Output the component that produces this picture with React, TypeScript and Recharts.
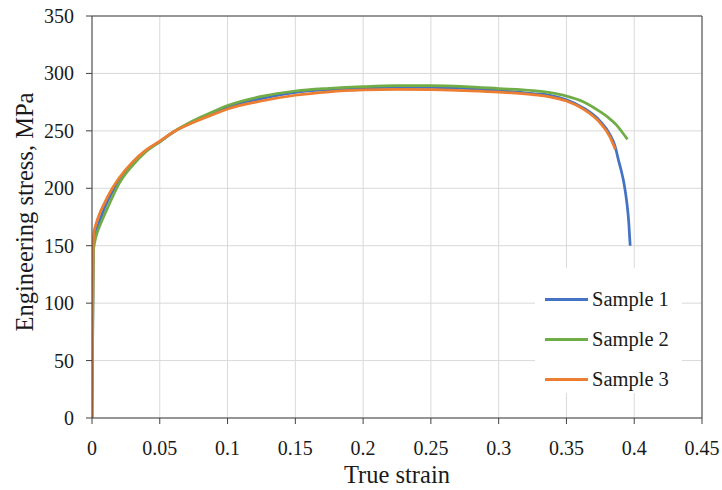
import { LineChart, Line, XAxis, YAxis, CartesianGrid, ReferenceLine, Legend } from 'recharts'

const FONT = "'Liberation Serif', 'Times New Roman', serif"

const strainTicks = [0, 0.05, 0.1, 0.15, 0.2, 0.25, 0.3, 0.35, 0.4, 0.45]
const stressTicks = [0, 50, 100, 150, 200, 250, 300, 350]

// Sample 1
const strain1 = [0, 0.001, 0.002, 0.004, 0.007, 0.01, 0.015, 0.02, 0.03, 0.04, 0.05, 0.06, 0.075, 0.09, 0.1, 0.125, 0.15, 0.175, 0.2, 0.225, 0.25, 0.275, 0.3, 0.325, 0.3378, 0.35, 0.3624, 0.3748, 0.382, 0.3858, 0.3883, 0.3905, 0.3925, 0.3945, 0.396, 0.397]
const stress1 = [0, 150, 158, 166, 176, 185, 197, 207, 222, 233, 240.5, 249, 258, 266, 271, 278, 283.5, 286, 287.3, 288, 287.8, 287, 285, 282.5, 281, 277, 270, 258.5, 247, 237, 225, 215, 204, 188, 170, 150]

// Sample 2
const strain2 = [0, 0.001, 0.002, 0.004, 0.006, 0.01, 0.015, 0.02, 0.03, 0.04, 0.05, 0.06, 0.075, 0.09, 0.1, 0.125, 0.15, 0.175, 0.2, 0.225, 0.25, 0.275, 0.3, 0.325, 0.3378, 0.35, 0.3624, 0.3748, 0.381, 0.387, 0.391, 0.395]
const stress2 = [0, 145, 153, 162, 168, 179, 192, 204, 220, 232, 240.5, 249, 259, 267, 272, 280, 284.7, 287, 288.5, 289.3, 289.3, 288.5, 286.8, 285, 283.2, 280.3, 275.4, 266.7, 261.5, 255, 249, 242.6]

// Sample 3
const strain3 = [0, 0.0008, 0.0015, 0.003, 0.006, 0.01, 0.015, 0.02, 0.03, 0.04, 0.05, 0.06, 0.075, 0.09, 0.1, 0.125, 0.15, 0.175, 0.2, 0.225, 0.25, 0.275, 0.3, 0.325, 0.3378, 0.35, 0.3624, 0.3748, 0.382, 0.386]
const stress3 = [0, 150, 162, 169, 179, 189, 200, 209, 223, 233.5, 241, 249, 257.5, 264.5, 269, 276, 281, 284, 285.6, 286.2, 286, 285, 283.7, 281.5, 279.5, 276, 269, 257, 245, 234]

const toRows = (xs: number[], ys: number[]) => xs.map((x, i) => ({ strain: x, stress: ys[i] }))

const series = [
  { name: 'Sample 1', color: '#4472C4', data: toRows(strain1, stress1) },
  { name: 'Sample 2', color: '#70AD47', data: toRows(strain2, stress2) },
  { name: 'Sample 3', color: '#ED7D31', data: toRows(strain3, stress3) },
]

const AXIS = '#404040'
const GRID = '#d9d9d9'
const TEXT = '#1a1a1a'

function XTick({ x, y, payload }: any) {
  return (
    <text x={x} y={y + 19} textAnchor="middle" style={{ fontFamily: FONT, fontSize: 20, fill: TEXT }}>
      {String(payload.value)}
    </text>
  )
}

function YTick({ x, y, payload }: any) {
  return (
    <text x={x} y={y + 7} textAnchor="end" style={{ fontFamily: FONT, fontSize: 20, fill: TEXT }}>
      {String(payload.value)}
    </text>
  )
}

function LegendBox() {
  return (
    <div style={{ background: '#fff', width: 147, height: 125, fontFamily: FONT, fontSize: 20.5, color: TEXT, paddingTop: 11, boxSizing: 'border-box' }}>
      {series.map(s => (
        <div key={s.name} style={{ display: 'flex', alignItems: 'center', height: 40, paddingLeft: 10, fontFamily: FONT }}>
          <div style={{ width: 43, height: 3, background: s.color, marginRight: 4 }} />
          <span style={{ fontFamily: FONT }}>{s.name}</span>
        </div>
      ))}
    </div>
  )
}

export default function App() {
  return (
    <div style={{ position: 'absolute', left: 0, top: 0, background: '#fff', fontFamily: FONT }}>
      <LineChart width={722} height={490} margin={{ top: 16, right: 20, left: 0, bottom: 0 }} style={{ fontFamily: FONT }}>
        <CartesianGrid stroke={GRID} strokeWidth={1} />
        <XAxis
          type="number"
          dataKey="strain"
          domain={[0, 0.45]}
          ticks={strainTicks}
          allowDataOverflow
          height={72}
          stroke={AXIS}
          tickSize={6}
          tickMargin={12}
          tick={<XTick />}
          tickLine={{ stroke: AXIS }}
          label={({ viewBox }: any) => (
            <text x={viewBox.x + viewBox.width / 2} y={viewBox.y + 65} textAnchor="middle" style={{ fontFamily: FONT, fontSize: 24.5, fill: TEXT }}>
              True strain
            </text>
          )}
        />
        <YAxis
          type="number"
          domain={[0, 350]}
          ticks={stressTicks}
          allowDataOverflow
          width={92}
          stroke={AXIS}
          tickSize={6}
          tickMargin={12}
          tick={<YTick />}
          tickLine={{ stroke: AXIS }}
          label={() => (
            <text x={33} y={212} textAnchor="middle" transform="rotate(-90 33 212)" style={{ fontFamily: FONT, fontSize: 24.5, fill: TEXT }}>
              Engineering stress, MPa
            </text>
          )}
        />
        <ReferenceLine y={350} stroke={AXIS} ifOverflow="visible" />
        <ReferenceLine x={0.45} stroke={AXIS} ifOverflow="visible" />
        {series.map(s => (
          <Line
            key={s.name}
            data={s.data}
            dataKey="stress"
            name={s.name}
            type="monotone"
            stroke={s.color}
            strokeWidth={2.75}
            dot={false}
            activeDot={false}
            isAnimationActive={false}
          />
        ))}
        <Legend
          layout="vertical"
          align="center"
          verticalAlign="middle"
          content={() => <LegendBox />}
          wrapperStyle={{ left: 535, top: 268, width: 147, height: 125 }}
        />
      </LineChart>
    </div>
  )
}
